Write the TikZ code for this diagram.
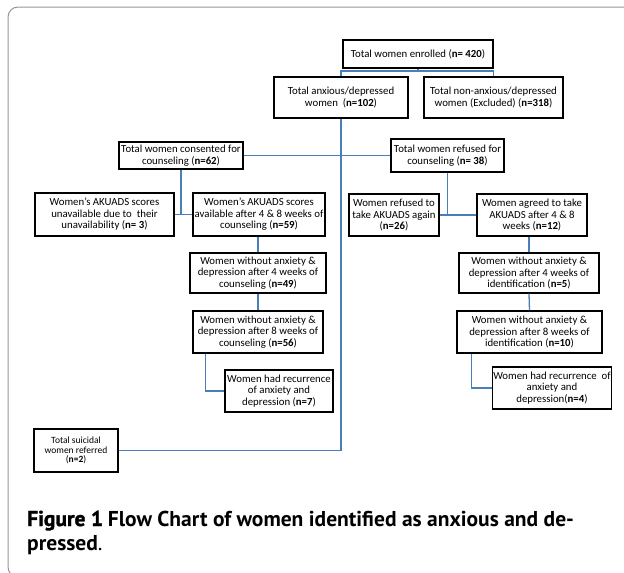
\documentclass[tikz,border=0pt]{standalone}
\usepackage{fontspec}
\setmainfont{Carlito}
\newfontfamily\capfont{PT Sans}
\newfontfamily\capfontsb{PT Sans Bold}
\newfontfamily\capfontb[FakeBold=1.5]{PT Sans Bold}
\definecolor{lnblue}{RGB}{74,126,187}
\definecolor{framegray}{RGB}{150,150,150}
\begin{document}
\begin{tikzpicture}[x=1pt,y=-1pt,
  box/.style={draw=black, line width=1.3pt, align=center, inner sep=1pt,
    font=\fontsize{10.8}{11.5}\selectfont},
  smallbox/.style={box, font=\fontsize{9.5}{9.5}\selectfont},
  link/.style={draw=lnblue, line width=1.3pt}]
\useasboundingbox (0,0) rectangle (624,573);
\begin{scope}
\clip (0,0) rectangle (624,573);
\draw[framegray, line width=1pt, rounded corners=10pt] (640,7) -- (8,7) -- (8,577) -- (640,577);
\end{scope}

\node[box, minimum width=150pt, minimum height=28pt] (enr) at (418,54) {Total women enrolled (\textbf{n= 420})};
\node[box, minimum width=134pt, minimum height=41pt] (anx) at (341,97.5) {Total anxious/depressed\\women\ \ (\textbf{n=102})};
\node[box, minimum width=139pt, minimum height=41pt] (non) at (493.5,97.5) {Total non-anxious/depressed\\women (Excluded) (\textbf{n=318})};
\node[box, minimum width=124pt, minimum height=27pt] (cons) at (181,155.5) {Total women consented for\\counseling (\textbf{n=62})};
\node[box, minimum width=113pt, minimum height=33pt] (ref) at (447.5,155.5) {Total women refused for\\counseling (\textbf{n= 38})};
\node[box, minimum width=139pt, minimum height=43pt] (unav) at (104.5,214.5) {Women’s AKUADS scores\\unavailable due to\ \ their\\unavailability (\textbf{n= 3})};
\node[box, minimum width=132pt, minimum height=43pt] (avail) at (259,214.5) {Women’s AKUADS scores\\available after 4 \& 8 weeks of\\counseling (\textbf{n=59})};
\node[box, minimum width=90pt, minimum height=42pt] (refA) at (394,215) {Women refused to\\take AKUADS again\\(\textbf{n=26})};
\node[box, minimum width=110pt, minimum height=42pt] (agr) at (532,215) {Women agreed to take\\AKUADS after 4 \& 8\\weeks (\textbf{n=12})};
\node[box, minimum width=136pt, minimum height=40pt] (w4) at (258,273) {Women without anxiety \&\\depression after 4 weeks of\\counseling (\textbf{n=49})};
\node[box, minimum width=130pt, minimum height=42pt] (w8) at (258,332) {Women without anxiety \&\\depression after 8 weeks of\\counseling (\textbf{n=56})};
\node[box, minimum width=108pt, minimum height=42pt] (rec7) at (279,391) {Women had recurrence\\of anxiety and\\depression (\textbf{n=7})};
\node[box, minimum width=140pt, minimum height=40pt] (r5) at (529,273) {Women without anxiety \&\\depression after 4 weeks of\\identification (\textbf{n=5})};
\node[box, minimum width=145pt, minimum height=42pt] (r10) at (529.5,332) {Women without anxiety \&\\depression after 8 weeks of\\identification (\textbf{n=10})};
\node[box, minimum width=118pt, minimum height=42pt] (rec4) at (552,388) {Women had recurrence\ \ of\\anxiety and\\depression(\textbf{n=4})};
\node[smallbox, minimum width=84pt, minimum height=43pt] (sui) at (76,450.5) {Total suicidal\\women referred\\(\textbf{n=2})};

\coordinate (j1) at (418,71);
\draw[link] (enr.south) -- (j1);
\draw[link] (anx.north) |- (j1) -| (non.north);
\draw[link] (anx.south) |- (sui.east);
\draw[link] (cons.east) -- (ref.west);
\draw[link] (cons.south) -- (cons.south |- unav.east);
\draw[link] (unav.east) -- (avail.west);
\draw[link] (ref.south) -- (ref.south |- refA.east);
\draw[link] (refA.east) -- (agr.west);
\draw[link] (w4.north) -- (w4.north |- avail.south);
\draw[link] (w4.south) -- (w8.north);
\draw[link] ([xshift=13pt]w8.south west) |- (rec7.west);
\draw[link] (r5.north) -- (r5.north |- agr.south);
\draw[link] (r5.south) -- (r10.north);
\draw[link] ([xshift=15pt]r10.south west) |- (rec4.west);

\node[anchor=base west, inner sep=0pt, font=\fontsize{21.5}{24}\selectfont] (cap1) at (27,526) {{\capfontb Figure 1} {\capfontsb Flow Chart of women identified as anxious and de-}};
\node[anchor=base west, inner sep=0pt, font=\fontsize{21.5}{24}\selectfont] (cap2) at (27,550) {{\capfontsb pressed}{\capfont .}};
\end{tikzpicture}
\end{document}
